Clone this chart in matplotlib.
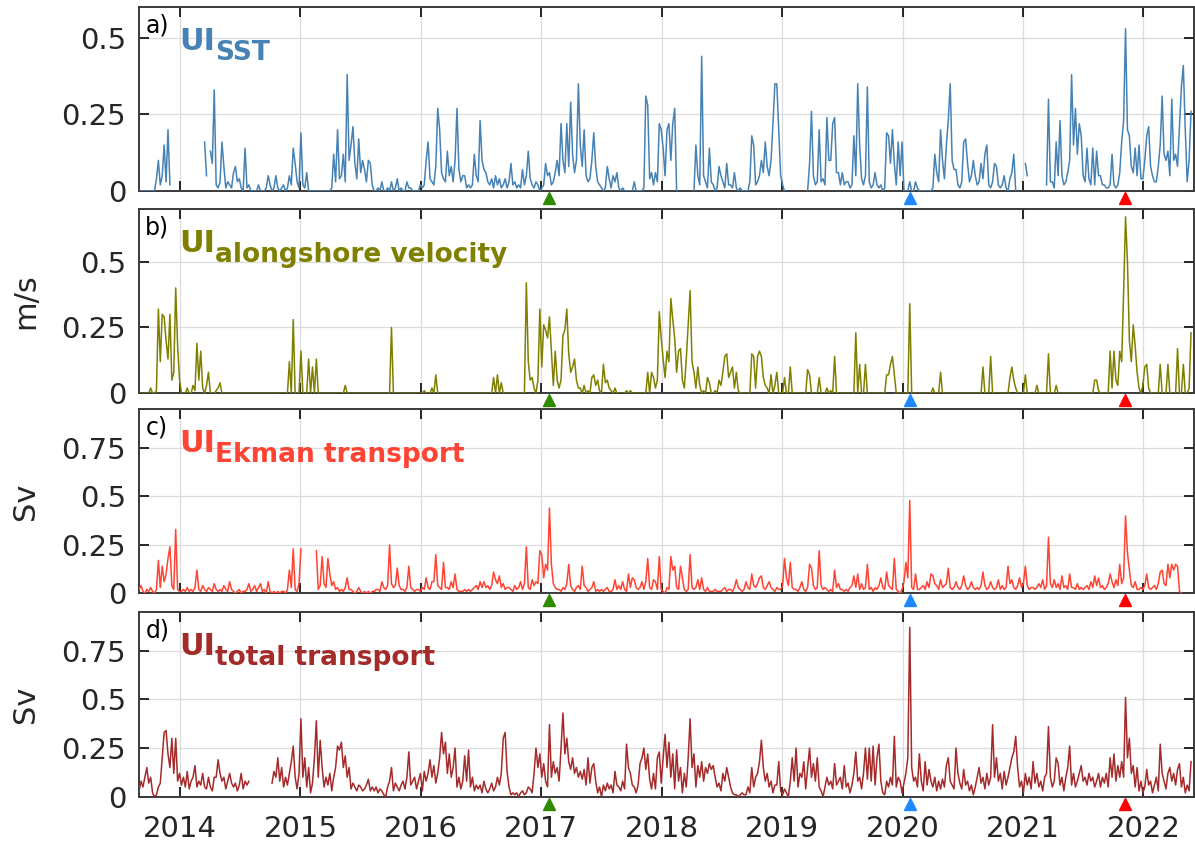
import numpy as np
import matplotlib
matplotlib.use("Agg")
import matplotlib.pyplot as plt
import matplotlib.transforms as mtransforms
from matplotlib.ticker import FuncFormatter

nan = float("nan")

# ---- sampling of the series (decimal years) ----
t_start_a = 2013.66      # first part of every series
t_start_b = 2017.42      # second part of every series
t_step = 0.016

# ---- a) UI SST (m/s) ----
sst_a = [
    0, 0, 0, 0, 0, 0, 0, 0, 0, 0.04,
    0.10, 0.02, 0.05, 0.15, 0.03, 0.20, 0.02, nan, nan, nan,
    nan, nan, nan, nan, nan, nan, nan, nan, nan, nan,
    nan, nan, nan, nan, 0.16, 0.05, nan, 0.13, 0.09, 0.33,
    0.02, 0.01, 0.03, 0.16, 0.08, 0.01, 0.03, 0.02, 0.01, 0.06,
    0.08, 0.03, 0.04, 0.01, 0, 0.14, 0.01, 0.02, 0, 0,
    0, 0, 0.02, 0, 0, 0, 0.01, 0.05, 0.02, 0,
    0.01, 0.05, 0.01, 0, 0.01, 0.02, 0, 0.01, 0.05, 0.02,
    0.14, 0.09, 0.03, 0.01, 0.19, 0.02, 0.01, 0.06, 0, 0,
    0, 0, 0, 0, 0, 0, 0, 0, 0, 0,
    0.01, 0.12, 0.03, 0.20, 0.04, 0.05, 0.12, 0.03, 0.38, 0.10,
    0.15, 0.21, 0.09, 0.04, 0.17, 0.06, 0.10, 0.07, 0.03, 0.10,
    0.09, 0.02, 0, 0, 0.01, 0, 0.03, 0, 0, 0.01,
    0, 0.03, 0, 0.01, 0.04, 0, 0.01, 0, 0, 0.03,
    0.01, 0.01, 0, 0, 0, 0, 0.02, 0.01, 0.02, 0.10,
    0.16, 0.04, 0.03, 0.02, 0.08, 0.27, 0.20, 0.06, 0.04, 0.03,
    0.13, 0.05, 0.08, 0.03, 0.10, 0.27, 0.07, 0.03, 0.05, 0.05,
    0.01, 0.02, 0.01, 0.02, 0.12, 0.05, 0.03, 0.23, 0.10, 0.07,
    0.06, 0.03, 0.02, 0.04, 0.01, 0.05, 0.02, 0.04, 0.01, 0.02,
    0.04, 0.01, 0.03, 0.09, 0.02, 0.03, 0.01, 0.02, 0.01, 0.07,
    0.02, 0.05, 0.13, 0.04, 0.02, 0.01, 0.03, 0.02, 0, 0.01,
    0.02, 0.09, 0.05, 0.06, 0.02, 0.03, 0.06, 0.10, 0.05, 0.22,
    0.10, 0.06, 0.22, 0.08, 0.29, 0.12, 0.06, 0.10, 0.35, 0.15,
    0.08, 0.20, 0.05, 0.03, 0.04,
]
sst_b = [
    0.10, 0.19, 0.08, 0.03, 0.02, 0.01, 0, 0.01, 0.08, 0.04,
    0.01, 0.05, 0.03, 0.06, 0.01, 0, 0.01, 0, 0, 0,
    0, 0, 0.03, 0, 0, 0, 0, 0.01, 0.31, 0.28,
    0.04, 0.06, 0.02, 0.06, 0.03, 0.22, 0.20, 0.14, 0.05, 0.20,
    0.22, 0.10, 0.22, 0.27, 0, nan, nan, nan, nan, nan,
    nan, nan, nan, 0, 0.15, 0.05, 0.02, 0.44, 0.05, 0.03,
    0.01, 0.14, 0.03, 0.02, 0, 0.01, 0.08, 0.05, 0.03, 0.01,
    0.09, 0.02, 0.02, 0.01, 0.06, 0.01, 0, 0.01, 0, 0,
    0, 0, 0.03, 0.18, 0.15, 0.02, 0.03, 0.05, 0.10, 0.06,
    0.16, 0.08, 0.05, 0.10, 0.22, 0.35, 0.35, 0.20, 0.05, 0.02,
    0, nan, nan, nan, nan, nan, nan, nan, nan, nan,
    nan, nan, 0, 0.09, 0.26, 0.05, 0.02, 0.03, 0.20, 0.03,
    0.04, 0.02, 0.24, 0.10, 0.10, 0.22, 0.24, 0.06, 0.06, 0.02,
    0.06, 0.02, 0.03, 0.03, 0.01, 0.02, 0.18, 0.05, 0.35, 0.15,
    0.04, 0.02, 0.05, 0.34, 0.03, 0.01, 0.02, 0.06, 0.02, 0.01,
    0.02, 0, 0.01, 0.19, 0.18, 0.09, 0.20, 0.09, 0.02, 0.16,
    0.05, 0.16, 0, 0, 0, 0.03, 0, 0, 0.03, 0.01,
    0, 0, 0, 0, 0, 0, 0, 0.01, 0.12, 0.06,
    0.03, 0.20, 0.10, 0.04, 0.15, 0.23, 0.35, 0.10, 0.07, 0.07,
    0.02, 0.01, 0.03, 0.16, 0.17, 0.09, 0.03, 0.05, 0.10, 0.05,
    0.02, 0.03, 0.09, 0.04, 0.12, 0.15, 0.02, 0.01, 0.03, 0.09,
    0.08, 0.02, 0.01, 0.02, 0.05, 0.01, 0, 0.04, 0.06, 0.12,
    0, nan, nan, nan, nan, 0.09, 0.05, nan, nan, nan,
    nan, nan, nan, nan, nan, nan, 0.02, 0.30, 0.03, 0.03,
    0.01, 0.16, 0.05, 0.23, 0.05, 0.02, 0.03, 0.06, 0.10, 0.38,
    0.15, 0.27, 0.12, 0.22, 0.18, 0.05, 0.03, 0.14, 0.04, 0.02,
    0.14, 0.02, 0.13, 0.05, 0.05, 0.02, 0.02, 0.01, 0.01, 0.02,
    0.12, 0.02, 0.01, 0.02, 0.06, 0.16, 0.23, 0.53, 0.20, 0.18,
    0.08, 0.06, 0.14, 0.05, 0.15, 0.04, 0.04, 0.10, 0.18, 0.21,
    0.08, 0.05, 0.03, 0.03, 0.08, 0.15, 0.31, 0.12, 0.10, 0.13,
    0.05, 0.30, 0.10, 0.12, 0.08, 0.21, 0.34, 0.41, 0.20, 0.03,
    0.10, 0.26,
]

# ---- b) UI alongshore velocity (m/s) ----
vel_a = [
    0, 0, 0, 0, 0, 0, 0.02, 0, 0, 0.01,
    0.32, 0.12, 0.30, 0.29, 0.20, 0.13, 0.30, 0.05, 0.08, 0.40,
    0.18, 0.05, 0, 0, 0, 0.02, 0, 0, 0.03, 0.01,
    0.19, 0.05, 0.16, 0.02, 0, 0.03, 0.08, 0, 0, 0,
    0.01, 0.02, 0.04, 0, 0, 0, 0, 0, 0, 0,
    0, 0, 0, 0, 0, 0, 0, 0, 0, 0,
    0, 0, 0, 0, 0, 0, 0, 0, 0, 0,
    0, 0, 0, 0, 0, 0, 0, 0, 0.12, 0,
    0.28, 0, 0, 0, 0.16, 0, 0, 0, 0.13, 0,
    0.10, 0, 0.13, 0, 0, 0, 0, 0, 0, 0,
    0, 0, 0, 0, 0, 0, 0, 0.03, 0, 0,
    0, 0, 0, 0, 0, 0, 0, 0, 0, 0,
    0, 0, 0, 0, 0, 0, 0, 0, 0, 0,
    0, 0.25, 0, 0, 0, 0, 0, 0, 0, 0,
    0, 0, 0, 0, 0, 0, 0, 0, 0.01, 0,
    0, 0, 0.02, 0, 0.07, 0, 0, 0, 0, 0,
    0, 0, 0, 0, 0, 0, 0, 0, 0, 0,
    0, 0, 0, 0, 0, 0, 0, 0, 0, 0,
    0, 0, 0, 0, 0.06, 0, 0.07, 0, 0.04, 0,
    0, 0, 0, 0, 0, 0, 0, 0, 0, 0,
    0, 0.42, 0.12, 0.05, 0.06, 0.02, 0, 0.05, 0.32, 0.10,
    0.26, 0.24, 0.21, 0.29, 0.16, 0.03, 0.16, 0.05, 0.02, 0.05,
    0.22, 0.24, 0.32, 0.15, 0.08, 0.10, 0.13, 0.05, 0.02, 0.02,
    0, 0.03, 0, 0.01, 0,
]
vel_b = [
    0.06, 0.07, 0.03, 0.05, 0.01, 0, 0.11, 0.04, 0.05, 0.02,
    0.01, 0, 0.02, 0, 0, 0, 0, 0, 0.01, 0,
    0.01, 0, 0, 0, 0, 0, 0, 0, 0, 0.08,
    0, 0.08, 0.06, 0.02, 0.05, 0.31, 0.21, 0.13, 0.06, 0.16,
    0.12, 0.36, 0.28, 0.21, 0.08, 0.16, 0.17, 0.05, 0.02, 0.13,
    0.26, 0.39, 0.12, 0.08, 0.02, 0.10, 0.03, 0, 0.01, 0,
    0.06, 0.04, 0, 0, 0.01, 0, 0.05, 0.03, 0.08, 0.14,
    0.15, 0.06, 0.08, 0.10, 0.02, 0.08, 0.01, 0, 0, 0,
    0, 0, 0, 0.15, 0.14, 0.02, 0.14, 0.16, 0.14, 0.06,
    0.03, 0.02, 0, 0.07, 0, 0.03, 0.08, 0, 0, 0,
    0.06, 0, 0, 0.10, 0, 0, 0, 0, 0, 0,
    0, 0, 0.09, 0.07, 0, 0, 0, 0, 0.06, 0,
    0, 0, 0.02, 0, 0.01, 0, 0.14, 0, 0, 0,
    0, 0, 0, 0, 0, 0, 0, 0.23, 0, 0.11,
    0, 0, 0.11, 0, 0, 0, 0, 0, 0, 0,
    0, 0, 0, 0.07, 0.07, 0.11, 0.14, 0.07, 0, 0,
    0, 0, 0, 0, 0, 0.34, 0, 0, 0, 0,
    0, 0, 0, 0, 0, 0, 0, 0.02, 0, 0,
    0, 0.08, 0, 0, 0, 0, 0, 0, 0, 0,
    0, 0, 0, 0, 0, 0, 0, 0, 0, 0,
    0, 0, 0, 0.10, 0, 0, 0, 0.14, 0, 0,
    0, 0, 0, 0, 0, 0, 0, 0.06, 0.10, 0.05,
    0.02, 0, 0, 0, 0, 0.07, 0, 0, 0, 0,
    0, 0.03, 0, 0, 0, 0, 0, 0.15, 0, 0,
    0, 0.03, 0, 0, 0, 0, 0, 0, 0, 0,
    0, 0, 0, 0, 0, 0, 0, 0, 0, 0,
    0, 0.05, 0.05, 0.01, 0, 0, 0, 0, 0, 0.16,
    0.02, 0.16, 0.05, 0.03, 0.16, 0.12, 0.38, 0.67, 0.50, 0.20,
    0.12, 0.26, 0.18, 0.08, 0.02, 0, 0.03, 0.10, 0.11, 0.02,
    0, 0, 0, 0, 0, 0.11, 0, 0, 0, 0.11,
    0, 0, 0, 0, 0.17, 0, 0, 0.11, 0, 0,
    0.02, 0.23,
]

# ---- c) UI Ekman transport (Sv) ----
ekm_a = [
    0.02, 0.04, 0.01, 0, 0.02, 0.01, 0.03, 0.01, 0, 0.02,
    0.17, 0.03, 0.14, 0.06, 0.10, 0.18, 0.24, 0.04, 0.02, 0.33,
    0.02, 0.01, 0.01, 0.02, 0.01, 0.03, 0.01, 0.02, 0.01, 0.03,
    0.12, 0.02, 0.01, 0.04, 0.02, 0.01, 0.03, 0.02, 0.01, 0.05,
    0.02, 0.01, 0.02, 0.01, 0.04, 0.02, 0.01, 0.06, 0.02, 0.01,
    0, 0.01, 0.02, 0, 0.01, 0.01, 0.02, 0.05, 0.01, 0.02,
    0.04, 0.01, 0.03, 0.05, 0.01, 0.02, 0, 0.06, 0.01, 0,
    0.01, 0, 0.01, 0, 0.01, 0.01, 0, 0.02, 0.12, 0.03,
    0.23, 0.02, 0.01, 0.05, 0.23, nan, nan, nan, nan, nan,
    nan, nan, 0.22, 0.02, 0.04, 0.19, 0.05, 0.03, 0.18, 0.10,
    0.04, 0.06, 0.02, 0.03, 0.01, 0.02, 0.01, 0.03, 0.08, 0.02,
    0.02, 0.01, 0, 0.01, 0.03, 0.01, 0, 0.01, 0, 0.01,
    0, 0.01, 0.01, 0.02, 0.02, 0.01, 0.06, 0.03, 0.02, 0.04,
    0.25, 0.05, 0.03, 0.04, 0.13, 0.04, 0.02, 0.02, 0.01, 0.03,
    0.14, 0.03, 0.02, 0.01, 0.02, 0.02, 0.01, 0.03, 0.02, 0.08,
    0.03, 0.02, 0.06, 0.06, 0.20, 0.04, 0.03, 0.02, 0.16, 0.03,
    0.03, 0.02, 0.06, 0.03, 0.10, 0.02, 0.01, 0.01, 0.01, 0.02,
    0.01, 0.02, 0.01, 0.02, 0.03, 0.04, 0.02, 0.06, 0.03, 0.06,
    0.03, 0.04, 0.02, 0.04, 0.11, 0.07, 0.05, 0.09, 0.03, 0.05,
    0.02, 0.03, 0.03, 0.02, 0.01, 0.04, 0.02, 0.03, 0.06, 0.02,
    0.05, 0.24, 0.03, 0.02, 0.07, 0.04, 0.06, 0.05, 0.22, 0.20,
    0.08, 0.15, 0.12, 0.44, 0.15, 0.05, 0.03, 0.02, 0.02, 0.01,
    0.03, 0.02, 0.05, 0.15, 0.04, 0.02, 0.01, 0.03, 0.04, 0.02,
    0.14, 0.04, 0.03, 0.01, 0.02,
]
ekm_b = [
    0.03, 0.06, 0.01, 0.02, 0.01, 0.02, 0.01, 0.02, 0.03, 0.01,
    0.01, 0.02, 0.07, 0.02, 0.04, 0.02, 0.06, 0.02, 0.01, 0.10,
    0.03, 0.08, 0.07, 0.03, 0.02, 0.03, 0.06, 0.02, 0.06, 0.18,
    0.03, 0.02, 0.07, 0.06, 0.02, 0.19, 0.02, 0.01, 0, 0.03,
    0.02, 0.19, 0.12, 0.14, 0.03, 0.02, 0.14, 0.08, 0.02, 0.01,
    0.02, 0.20, 0.03, 0.02, 0.03, 0.07, 0.02, 0.08, 0.02, 0.01,
    0.03, 0.01, 0.01, 0.01, 0.02, 0.01, 0.01, 0.01, 0.02, 0.03,
    0.01, 0.02, 0.02, 0.01, 0.03, 0.07, 0.03, 0.02, 0.01, 0.02,
    0.06, 0.03, 0.02, 0.10, 0.04, 0.03, 0.05, 0.08, 0.09, 0.03,
    0.02, 0.04, 0.06, 0.03, 0.02, 0.01, 0.03, 0.02, 0.02, 0.04,
    0.18, 0.08, 0.04, 0.16, 0.03, 0.02, 0.02, 0.01, 0.03, 0.06,
    0.02, 0.01, 0.03, 0.15, 0.13, 0.04, 0.02, 0.03, 0.22, 0.04,
    0.02, 0.03, 0.02, 0.01, 0.02, 0.01, 0.12, 0.03, 0.05, 0.02,
    0.02, 0.01, 0.02, 0.01, 0.03, 0.04, 0.09, 0.03, 0.10, 0.02,
    0.05, 0.02, 0.03, 0.15, 0.02, 0.03, 0.01, 0.03, 0.02, 0.04,
    0.08, 0.03, 0.02, 0.11, 0.04, 0.03, 0.02, 0.18, 0.02, 0.01,
    0, 0.02, 0.06, 0.16, 0.08, 0.48, 0.03, 0.02, 0.10, 0.02,
    0.02, 0.03, 0.04, 0.02, 0.06, 0.03, 0.10, 0.09, 0.05, 0.04,
    0.02, 0.07, 0.03, 0.04, 0.05, 0.13, 0.03, 0.02, 0.03, 0.06,
    0.03, 0.02, 0.04, 0.09, 0.04, 0.02, 0.03, 0.06, 0.03, 0.02,
    0.03, 0.02, 0.04, 0.11, 0.04, 0.02, 0.03, 0.06, 0.03, 0.02,
    0.03, 0.07, 0.02, 0.04, 0.02, 0.03, 0.14, 0.05, 0.07, 0.03,
    0.02, 0.04, 0.08, 0.03, 0.05, 0.14, 0.04, 0.02, 0.03, 0.03,
    0.02, 0.03, 0.05, 0.03, 0.07, 0.02, 0.04, 0.29, 0.05, 0.03,
    0.07, 0.03, 0.05, 0.02, 0.09, 0.03, 0.04, 0.02, 0.10, 0.03,
    0.03, 0.02, 0.05, 0.02, 0.03, 0.02, 0.03, 0.04, 0.02, 0.06,
    0.03, 0.09, 0.04, 0.08, 0.03, 0.04, 0.02, 0.03, 0.05, 0.10,
    0.06, 0.03, 0.07, 0.04, 0.15, 0.05, 0.08, 0.40, 0.21, 0.12,
    0.04, 0.03, 0.06, 0.02, 0.02, 0.03, 0.02, 0.04, 0.10, 0.03,
    0.02, 0.03, 0.04, 0.02, 0.05, 0.11, 0.12, 0.05, 0.04, 0.15,
    0.08, 0.15, 0.12, 0.15, 0.14, 0.01, 0, nan, nan, nan,
    nan, nan,
]

# ---- d) UI total transport (Sv) ----
tot_a = [
    0.03, 0.08, 0.05, 0.10, 0.15, 0.07, 0.10, 0.02, 0, 0.01,
    0.05, 0.07, 0.20, 0.33, 0.34, 0.22, 0.15, 0.30, 0.12, 0.30,
    0.08, 0.12, 0.06, 0.10, 0.05, 0.13, 0.04, 0.08, 0.10, 0.16,
    0.05, 0.08, 0.06, 0.12, 0.05, 0.04, 0.10, 0.05, 0.03, 0.10,
    0.10, 0.19, 0.12, 0.08, 0.10, 0.04, 0.08, 0.12, 0.07, 0.05,
    0.07, 0.03, 0.06, 0.12, 0.04, 0.08, 0.06, 0.08, nan, nan,
    nan, nan, nan, nan, nan, nan, nan, nan, nan, 0.07,
    0.13, 0.10, 0.20, 0.08, 0.15, 0.05, 0.10, 0.06, 0.12, 0.18,
    0.26, 0.10, 0.04, 0.12, 0.40, 0.10, 0.20, 0.05, 0.15, 0.02,
    0.07, 0.20, 0.39, 0.10, 0.29, 0.15, 0.05, 0.10, 0.06, 0.12,
    0.03, 0.10, 0.15, 0.26, 0.24, 0.28, 0.15, 0.21, 0.10, 0.15,
    0.04, 0.07, 0.05, 0.03, 0.06, 0.05, 0.03, 0.04, 0.06, 0.09,
    0.03, 0.05, 0.03, 0.05, 0.02, 0.04, 0.03, 0.01, 0, 0.05,
    0.08, 0.15, 0.03, 0.07, 0.05, 0.03, 0.06, 0.08, 0.04, 0.10,
    0.23, 0.06, 0.08, 0.10, 0.04, 0.08, 0.12, 0.03, 0.13, 0.08,
    0.12, 0.19, 0.10, 0.16, 0.07, 0.12, 0.20, 0.33, 0.22, 0.28,
    0.12, 0.22, 0.10, 0.15, 0.25, 0.05, 0.10, 0.04, 0.08, 0.21,
    0.08, 0.24, 0.05, 0.10, 0.03, 0.06, 0.04, 0.06, 0.02, 0.08,
    0.04, 0.02, 0.04, 0.07, 0.03, 0.05, 0.10, 0.06, 0.12, 0.30,
    0.33, 0.13, 0.05, 0.01, 0.02, 0.01, 0.02, 0, 0.02, 0.03,
    0.01, 0.02, 0.05, 0.04, 0.02, 0.12, 0.25, 0.15, 0.22, 0.10,
    0.17, 0.08, 0.05, 0.37, 0.10, 0.18, 0.12, 0.15, 0.08, 0.25,
    0.43, 0.22, 0.30, 0.18, 0.14, 0.20, 0.12, 0.15, 0.10, 0.13,
    0.09, 0.14, 0.06, 0.20, 0.07,
]
tot_b = [
    0.15, 0.17, 0.08, 0.02, 0.05, 0.00, 0.06, 0.03, 0.07, 0.04,
    0.06, 0.02, 0.13, 0.06, 0.05, 0.03, 0.08, 0.04, 0.27, 0.15,
    0.12, 0.06, 0.05, 0.02, 0.06, 0.17, 0.20, 0.25, 0.14, 0.22,
    0.09, 0.04, 0.12, 0.04, 0.20, 0.23, 0.07, 0.20, 0.32, 0.15,
    0.28, 0.10, 0.22, 0.04, 0.24, 0.08, 0.15, 0.02, 0.12, 0.05,
    0.20, 0.40, 0.15, 0.22, 0.05, 0.16, 0.10, 0.18, 0.08, 0.15,
    0.12, 0.17, 0.14, 0.16, 0.10, 0.05, 0.07, 0.03, 0.12, 0.08,
    0.15, 0.10, 0.05, 0.02, 0.01, 0.01, 0.00, 0.01, 0.02, 0.01,
    0.01, 0.05, 0.02, 0.15, 0.05, 0.10, 0.12, 0.18, 0.29, 0.15,
    0.08, 0.12, 0.05, 0.08, 0.02, 0.06, 0.06, 0.18, 0.03, 0.01,
    0.04, 0.02, 0.00, 0.08, 0.20, 0.08, 0.25, 0.05, 0.12, 0.10,
    0.18, 0.04, 0.15, 0.25, 0.10, 0.17, 0.08, 0.20, 0.05, 0.03,
    0.00, 0.05, 0.10, 0.06, 0.08, 0.04, 0.17, 0.06, 0.08, 0.10,
    0.04, 0.16, 0.05, 0.07, 0.02, 0.06, 0.12, 0.23, 0.08, 0.10,
    0.04, 0.12, 0.25, 0.09, 0.25, 0.08, 0.26, 0.06, 0.20, 0.27,
    0.08, 0.02, 0.01, 0.08, 0.05, 0.10, 0.06, 0.31, 0.05, 0.10,
    0.08, 0.02, 0.07, 0.12, 0.20, 0.87, 0.15, 0.08, 0.10, 0.05,
    0.22, 0.08, 0.03, 0.18, 0.06, 0.14, 0.08, 0.05, 0.10, 0.03,
    0.08, 0.04, 0.09, 0.05, 0.16, 0.20, 0.08, 0.06, 0.04, 0.25,
    0.12, 0.07, 0.04, 0.14, 0.06, 0.08, 0.03, 0.06, 0.01, 0.05,
    0.10, 0.15, 0.07, 0.10, 0.04, 0.12, 0.06, 0.10, 0.37, 0.10,
    0.20, 0.08, 0.12, 0.04, 0.13, 0.06, 0.10, 0.15, 0.20, 0.23,
    0.31, 0.15, 0.05, 0.08, 0.02, 0.12, 0.06, 0.10, 0.04, 0.18,
    0.07, 0.12, 0.05, 0.08, 0.03, 0.10, 0.12, 0.36, 0.10, 0.05,
    0.08, 0.20, 0.17, 0.06, 0.10, 0.03, 0.10, 0.15, 0.26, 0.06,
    0.12, 0.05, 0.08, 0.12, 0.16, 0.08, 0.10, 0.06, 0.12, 0.08,
    0.10, 0.05, 0.08, 0.12, 0.05, 0.10, 0.07, 0.12, 0.05, 0.20,
    0.10, 0.22, 0.08, 0.16, 0.10, 0.18, 0.10, 0.51, 0.20, 0.30,
    0.12, 0.16, 0.05, 0.15, 0.03, 0.08, 0.02, 0.05, 0.14, 0.06,
    0.08, 0.02, 0.06, 0.10, 0.03, 0.27, 0.12, 0.08, 0.04, 0.12,
    0.15, 0.08, 0.12, 0.06, 0.14, 0.17, 0.05, 0.10, 0.02, 0.06,
    0.03, 0.18,
]

# ---- panel metadata ----
panel_tags = ["a)", "b)", "c)", "d)"]
panel_subs = ["SST", "alongshore velocity", "Ekman transport", "total transport"]
panel_units = ["", "m/s", "Sv", "Sv"]
panel_colors = ["#4682B4", "#808000", "#FF4433", "#A52A2A"]
panel_ymax = [0.6, 0.7, 0.95, 0.95]
panel_yticks = [[0, 0.25, 0.5], [0, 0.25, 0.5], [0, 0.25, 0.5, 0.75], [0, 0.25, 0.5, 0.75]]
series = [(sst_a, sst_b), (vel_a, vel_b), (ekm_a, ekm_b), (tot_a, tot_b)]

year_ticks = list(range(2014, 2023))
x_limits = (2013.662, 2022.417)

# event markers below each panel
event_times = [2017.064, 2020.058, 2021.85]
event_colors = ["#2E8B00", "#1E88FF", "#FF0000"]

# ---- figure ----
fig = plt.figure(figsize=(11.95, 8.44), dpi=100)
ax_left, ax_width = 0.1166, 0.8822
ax_bottoms = [0.7737, 0.534, 0.297, 0.056]
ax_heights = [0.2177, 0.2184, 0.218, 0.2192]
ink = "#262626"

for i in range(4):
    ax = fig.add_axes([ax_left, ax_bottoms[i], ax_width, ax_heights[i]])
    a_vals, b_vals = series[i]
    ta = t_start_a + t_step * np.arange(len(a_vals))
    tb = t_start_b + t_step * np.arange(len(b_vals))
    t = np.concatenate([ta, tb])
    v = np.array(list(a_vals) + list(b_vals), dtype=float)
    ax.plot(t, v, color=panel_colors[i], lw=1.1, zorder=3)

    ax.set_xlim(*x_limits)
    ax.set_ylim(0, panel_ymax[i])
    ax.set_xticks(year_ticks)
    ax.set_xticklabels([str(y) for y in year_ticks])
    ax.set_yticks(panel_yticks[i])
    ax.yaxis.set_major_formatter(FuncFormatter(lambda val, pos: "%g" % val))
    ax.grid(True, color="#dcdcdc", lw=0.9)
    ax.set_axisbelow(True)
    ax.tick_params(direction="in", length=7.3, width=1.4, top=True, right=True,
                   labelsize=21, colors=ink)
    ax.tick_params(axis="y", pad=9.5)
    ax.tick_params(axis="x", pad=13.0)
    if i < 3:
        ax.tick_params(labelbottom=False)
    for s in ax.spines.values():
        s.set_linewidth(1.4)
        s.set_color("#3a3a3a")
        s.set_zorder(2.6)

    # panel tag
    ax.text(0.0057, 0.863, panel_tags[i], transform=ax.transAxes, fontsize=17,
            color="black", va="baseline", ha="left")
    # UI with subscript
    t1 = ax.text(0.038, 0.768, "UI", transform=ax.transAxes, fontsize=22,
                 fontweight="bold", color=panel_colors[i], va="baseline", ha="left")
    ax.annotate(panel_subs[i], xy=(1, 0), xycoords=t1, xytext=(0.0, -3.0),
                textcoords="offset points", fontsize=19, fontweight="bold",
                color=panel_colors[i], va="baseline", ha="left")

    # event markers
    trans = mtransforms.blended_transform_factory(ax.transData, ax.transAxes)
    for te, ce in zip(event_times, event_colors):
        ax.plot([te], [-0.037], marker="^", ms=9, color=ce, ls="none",
                transform=trans, clip_on=False, zorder=5)

    if panel_units[i]:
        yc = ax_bottoms[i] + ax_heights[i] / 2
        fig.text(26 / 1195, yc, panel_units[i], rotation=90, fontsize=22,
                 color=ink, ha="center", va="center")

fig.savefig("out.png", dpi=100)
